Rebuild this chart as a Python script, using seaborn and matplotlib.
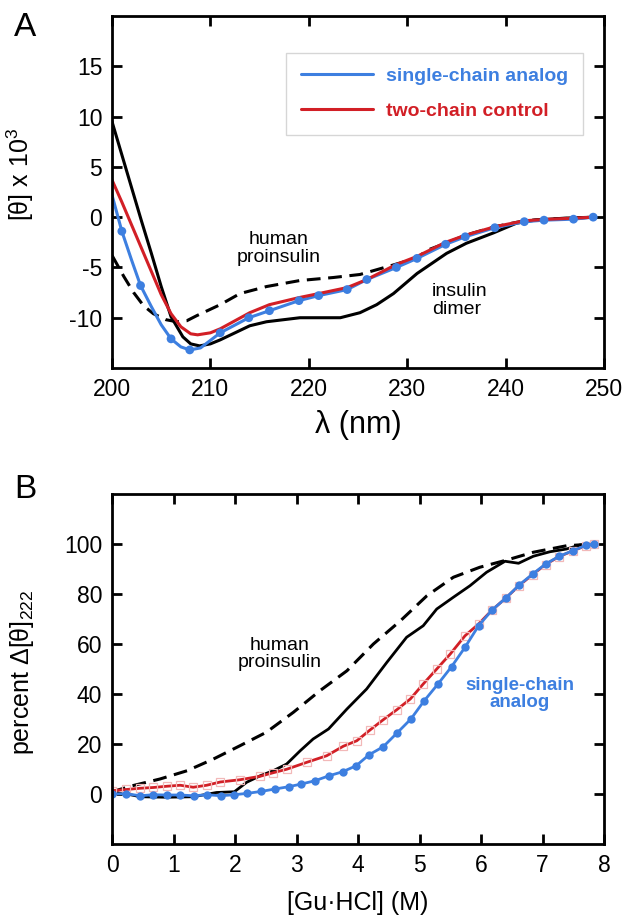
import numpy as np
import pandas as pd
import matplotlib
matplotlib.use("Agg")
import matplotlib.pyplot as plt
import seaborn as sns
from matplotlib.lines import Line2D

# ---- Panel A data: CD spectra ----
wl_single = [200, 201.0, 202.0, 202.9, 204.0, 205.0, 206.0, 207.0, 207.9, 209.0, 211.0, 213.9,
             216.0, 219.0, 221.0, 223.9, 225.9, 228.9, 231.0, 233.9, 235.9, 238.9, 241.9,
             243.9, 246.9, 248.9]
cd_single = [2.2, -1.4, -4.3, -6.8, -8.9, -10.7, -12.1, -12.9, -13.2, -13.0, -11.5, -10.0,
             -9.3, -8.3, -7.8, -7.2, -6.2, -5.0, -4.1, -2.7, -1.95, -1.05, -0.45,
             -0.3, -0.2, 0.0]
marker_wl = [201.0, 202.9, 206.0, 207.9, 211.0, 213.9, 216.0, 219.0, 221.0, 223.9, 225.9,
             228.9, 231.0, 233.9, 235.9, 238.9, 241.9, 243.9, 246.9, 248.9]

wl_two = [200, 201.0, 202.0, 203.0, 204.0, 205.0, 206.0, 207.0, 208.0, 208.7, 210.0, 211.0,
          214.0, 216.0, 219.0, 221.0, 223.9, 225.9, 228.9, 231.0, 233.9, 235.9, 238.9,
          241.9, 243.9, 246.9, 249.0]
cd_two = [3.7, 1.5, -0.8, -3.1, -5.4, -7.7, -9.6, -10.9, -11.6, -11.7, -11.5, -11.1,
          -9.5, -8.7, -8.0, -7.6, -7.0, -6.2, -4.7, -3.9, -2.5, -1.8, -0.95,
          -0.36, -0.23, -0.1, 0.0]

wl_dimer = [200, 201.0, 202.0, 203.0, 204.0, 205.0, 206.0, 207.2, 208.0, 208.9, 210.0, 211.0,
            214.0, 215.7, 219.1, 222.5, 223.2, 225.2, 226.9, 228.6, 231.0, 234.0, 236.0,
            238.8, 241.1, 243.0, 246.0, 249.0]
cd_dimer = [9.5, 6.2, 2.9, -0.4, -3.6, -6.9, -9.9, -11.9, -12.6, -12.8, -12.6, -12.2,
            -10.8, -10.4, -10.0, -10.0, -10.0, -9.5, -8.7, -7.6, -5.6, -3.6, -2.6,
            -1.55, -0.6, -0.3, -0.1, 0.0]

wl_proins = [200, 201.2, 202.2, 203.2, 204.2, 205.5, 206.6, 207.6, 208.6, 211.0, 213.0, 215.7,
             219.1, 222.5, 225.2, 228.6, 231.0, 232.0, 233.9, 235.9, 238.9, 241.9, 244.0,
             247.0, 249.0]
cd_proins = [-3.8, -5.9, -7.5, -8.8, -9.6, -10.2, -10.4, -10.3, -9.8, -8.7, -7.6, -6.9,
             -6.3, -6.0, -5.7, -4.75, -4.05, -3.3, -2.6, -1.8, -0.95, -0.36, -0.2,
             -0.1, 0.0]

# ---- Panel B data: GuHCl denaturation ----
gu_single = [0.0, 0.23, 0.46, 0.67, 0.89, 1.11, 1.33, 1.55, 1.77, 1.98, 2.20, 2.43, 2.65, 2.87,
             3.08, 3.30, 3.53, 3.75, 3.97, 4.18, 4.41, 4.63, 4.86, 5.07, 5.30, 5.52, 5.74,
             5.96, 6.18, 6.40, 6.62, 6.84, 7.05, 7.27, 7.49, 7.71, 7.83]
pct_single = [0.0, 0.1, -0.7, -0.3, -0.4, -0.4, -0.7, -0.3, -0.7, -0.3, 0.25, 1.05, 2.0, 2.9,
              4.0, 5.3, 7.3, 8.9, 11.3, 15.7, 18.9, 24.3, 30.0, 37.1, 44.0, 50.9, 58.7,
              67.3, 73.6, 78.3, 83.6, 88.0, 92.0, 95.1, 97.3, 99.5, 100.0]

gu_two = [0.0, 0.23, 0.46, 0.67, 0.89, 1.11, 1.32, 1.54, 1.76, 2.08, 2.41, 2.62, 2.84, 3.17,
          3.49, 3.76, 3.98, 4.20, 4.41, 4.63, 4.85, 5.06, 5.28, 5.50, 5.74, 5.96, 6.18,
          6.40, 6.62, 6.84, 7.05, 7.27, 7.49, 7.71, 7.83]
pct_two = [1.3, 1.8, 2.3, 2.6, 3.1, 3.5, 2.7, 3.5, 4.8, 5.7, 7.1, 8.5, 9.9, 12.7,
           15.3, 19.1, 21.3, 25.7, 29.7, 33.7, 38.0, 44.0, 50.0, 56.0, 63.3, 68.0, 73.6,
           78.3, 83.4, 87.8, 91.8, 95.0, 97.2, 99.4, 100.0]

gu_dimer = [0.0, 0.24, 0.46, 0.89, 1.32, 1.70, 1.99, 2.19, 2.41, 2.62, 2.84, 3.06, 3.27, 3.52,
            3.82, 4.14, 4.47, 4.79, 5.06, 5.28, 5.55, 5.82, 6.09, 6.39, 6.61, 6.85, 7.12,
            7.39, 7.61, 7.83]
pct_dimer = [0.4, 0.0, -1.1, -1.3, -1.1, 0.6, 0.9, 4.7, 7.3, 9.3, 12.0, 17.3, 22.0, 26.0,
             34.0, 42.0, 52.7, 62.7, 67.3, 74.0, 78.7, 83.3, 88.7, 93.1, 92.3, 95.1, 96.9,
             98.0, 99.6, 100.0]

gu_proins = [0.0, 0.33, 0.78, 1.22, 1.65, 2.08, 2.51, 2.95, 3.38, 3.82, 4.25, 4.69, 5.12,
             5.55, 5.98, 6.42, 6.85, 7.39, 7.83]
pct_proins = [0.9, 3.3, 6.0, 9.3, 14.0, 19.3, 24.7, 32.7, 41.3, 49.3, 60.0, 69.3, 79.3,
              86.7, 90.7, 93.6, 96.7, 99.3, 100.0]

blue = "#3d7fe0"
red = "#d21f26"

sns.set_style("ticks")
plt.rcParams["font.family"] = ["Liberation Sans", "DejaVu Sans"]
plt.rcParams["mathtext.fontset"] = "custom"
plt.rcParams["mathtext.rm"] = "Liberation Sans"
plt.rcParams["mathtext.it"] = "Liberation Sans:italic"
plt.rcParams["axes.unicode_minus"] = False
plt.rcParams["text.color"] = "black"
plt.rcParams["axes.labelcolor"] = "black"
plt.rcParams["xtick.color"] = "black"
plt.rcParams["ytick.color"] = "black"

fig = plt.figure(figsize=(6.24, 9.15), dpi=100)
axA = fig.add_axes([0.1795, 0.5978, 0.7885, 0.3847])
axB = fig.add_axes([0.1795, 0.0776, 0.7885, 0.3825])


def style_axes(ax):
    for s in ax.spines.values():
        s.set_linewidth(2.0)
        s.set_color("black")
    ax.tick_params(direction="in", length=7, width=2.0, labelsize=16.5,
                   top=True, right=True, pad=7)


# Panel A
sns.lineplot(x=wl_proins, y=cd_proins, ax=axA, color="black", lw=2.2,
             linestyle=(0, (4.5, 2.5)), sort=False, errorbar=None)
sns.lineplot(x=wl_dimer, y=cd_dimer, ax=axA, color="black", lw=2.2, sort=False, errorbar=None)
sns.lineplot(x=wl_single, y=cd_single, ax=axA, color=blue, lw=2.2, sort=False, errorbar=None)
mk = pd.DataFrame({"wl": wl_single, "cd": cd_single})
mk = mk[mk["wl"].isin(marker_wl)]
sns.scatterplot(data=mk, x="wl", y="cd", ax=axA, color=blue, s=40,
                edgecolor="none", zorder=4)
sns.lineplot(x=wl_two, y=cd_two, ax=axA, color=red, lw=2.2, sort=False, errorbar=None)

axA.set_xlim(200, 250)
axA.set_ylim(-15, 20)
axA.set_xticks([200, 210, 220, 230, 240, 250])
axA.set_yticks([-10, -5, 0, 5, 10, 15])
style_axes(axA)
axA.set_xlabel("λ (nm)", fontsize=22)
axA.xaxis.set_label_coords(0.5, -0.12)
axA.set_ylabel("[θ] x 10$^{3}$", fontsize=18)
axA.yaxis.set_label_coords(-0.155, 0.55)

axA.text(216.9, -3.1, "human\nproinsulin", fontsize=14, ha="center", va="center",
         linespacing=1.05)
axA.text(232.5, -8.3, "insulin\ndimer", fontsize=14, ha="left", va="center",
         linespacing=1.05)

handles = [Line2D([0], [0], color=blue, lw=2.2), Line2D([0], [0], color=red, lw=2.2)]
leg = axA.legend(handles, ["single-chain analog", "two-chain control"],
                 loc="upper right", bbox_to_anchor=(0.957, 0.895),
                 prop={"weight": "bold", "size": 14}, labelcolor=[blue, red],
                 handlelength=3.7, handletextpad=0.7, labelspacing=0.9,
                 borderpad=0.75, borderaxespad=0, fancybox=False, frameon=True)
leg.get_frame().set_edgecolor("#cccccc")
leg.get_frame().set_linewidth(1.0)

# Panel B
sns.lineplot(x=gu_proins, y=pct_proins, ax=axB, color="black", lw=2.2,
             linestyle=(0, (4.5, 2.5)), sort=False, errorbar=None)
sns.lineplot(x=gu_dimer, y=pct_dimer, ax=axB, color="black", lw=2.0, sort=False, errorbar=None)
sns.lineplot(x=gu_two, y=pct_two, ax=axB, color=red, lw=2.0, sort=False, errorbar=None,
             marker="s", markersize=6, markerfacecolor="none",
             markeredgecolor="#f2b8b8", markeredgewidth=0.9)
sns.lineplot(x=gu_single, y=pct_single, ax=axB, color=blue, lw=2.0, sort=False, errorbar=None,
             marker="o", markersize=6, markeredgecolor="none")

axB.set_xlim(0, 8)
axB.set_ylim(-20, 120)
axB.set_xticks(range(0, 9))
axB.set_yticks([0, 20, 40, 60, 80, 100])
style_axes(axB)
axB.set_xlabel("[Gu·HCl] (M)", fontsize=18)
axB.xaxis.set_label_coords(0.5, -0.135)
axB.set_ylabel("percent Δ[θ]$_{222}$", fontsize=18)
axB.yaxis.set_label_coords(-0.155, 0.49)

axB.text(2.72, 56, "human\nproinsulin", fontsize=14, ha="center", va="center",
         linespacing=1.05)
axB.text(6.63, 40, "single-chain\nanalog", fontsize=13.5, ha="center", va="center",
         color=blue, fontweight="bold", linespacing=1.05)

fig.text(25 / 624, 1 - 27 / 915, "A", fontsize=24, ha="center", va="center")
fig.text(25 / 624, 1 - 489 / 915, "B", fontsize=24, ha="center", va="center")

fig.savefig("out.png", dpi=100)
